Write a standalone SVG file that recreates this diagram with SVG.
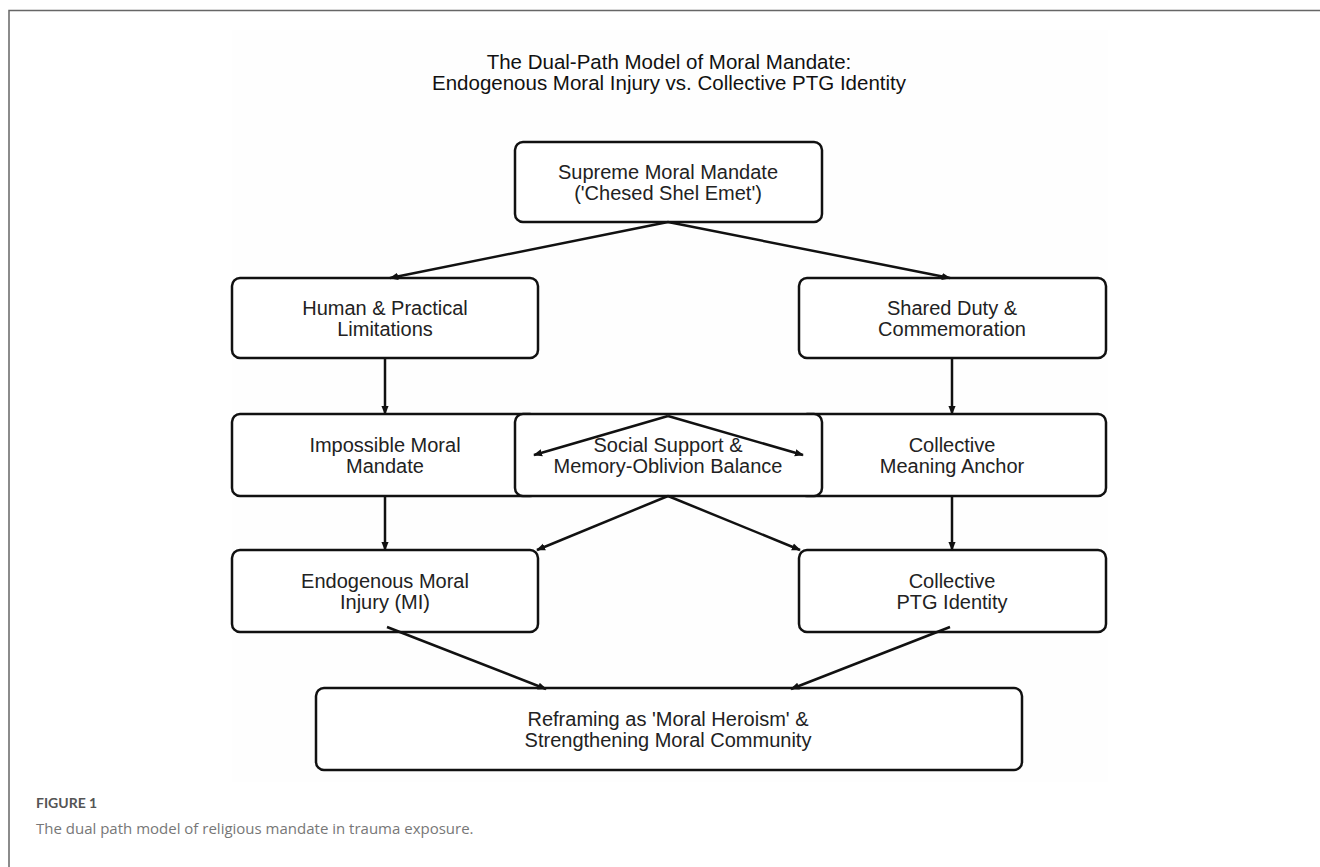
<svg xmlns="http://www.w3.org/2000/svg" width="1320" height="867" viewBox="0 0 1320 867">
  <defs>
    <marker id="arr" viewBox="0 0 10 10" refX="9" refY="5" markerWidth="9" markerHeight="9" markerUnits="userSpaceOnUse" orient="auto">
      <path d="M0,1 L10,5 L0,9 z" fill="#111"/>
    </marker>
    <style>
      .box { fill: #fff; stroke: #111; stroke-width: 2.5; }
      .lbl { font-family: "Liberation Sans", Arial, sans-serif; font-size: 20px; fill: #222; text-anchor: middle; }
      .title { font-family: "Liberation Sans", Arial, sans-serif; font-size: 20.5px; fill: #111; text-anchor: middle; }
      .edge { stroke: #111; stroke-width: 2.5; fill: none; marker-end: url(#arr); }
      .frame { stroke: #666; stroke-width: 1.5; fill: none; }
    </style>
  </defs>
  <rect x="0" y="0" width="1320" height="867" fill="#fff"/>
  <rect x="232" y="30" width="876" height="752" fill="#fefefe"/>
  <path class="frame" d="M9,867 L9,10.5 L1320,10.5"/>

  <g id="title">
    <text class="title" x="669" y="69">The Dual-Path Model of Moral Mandate:</text>
    <text class="title" x="669" y="90">Endogenous Moral Injury vs. Collective PTG Identity</text>
  </g>

  <g id="node-supreme">
    <rect class="box" x="515" y="142" width="307" height="80" rx="8"/>
    <text class="lbl" x="668" y="179">Supreme Moral Mandate</text>
    <text class="lbl" x="668" y="200">('Chesed Shel Emet')</text>
  </g>
  <g id="node-limitations">
    <rect class="box" x="232" y="278" width="306" height="80" rx="8"/>
    <text class="lbl" x="385" y="315">Human &amp; Practical</text>
    <text class="lbl" x="385" y="336">Limitations</text>
  </g>
  <g id="node-shared">
    <rect class="box" x="799" y="278" width="307" height="80" rx="8"/>
    <text class="lbl" x="952" y="315">Shared Duty &amp;</text>
    <text class="lbl" x="952" y="336">Commemoration</text>
  </g>
  <g id="node-impossible">
    <rect class="box" x="232" y="414" width="306" height="82" rx="8"/>
    <text class="lbl" x="385" y="452">Impossible Moral</text>
    <text class="lbl" x="385" y="473">Mandate</text>
  </g>
  <g id="node-meaning">
    <rect class="box" x="799" y="414" width="307" height="82" rx="8"/>
    <text class="lbl" x="952" y="452">Collective</text>
    <text class="lbl" x="952" y="473">Meaning Anchor</text>
  </g>
  <g id="node-social">
    <rect class="box" x="515" y="414" width="307" height="82" rx="8"/>
    <text class="lbl" x="668" y="452">Social Support &amp;</text>
    <text class="lbl" x="668" y="473">Memory-Oblivion Balance</text>
  </g>
  <g id="node-endogenous">
    <rect class="box" x="232" y="550" width="306" height="82" rx="8"/>
    <text class="lbl" x="385" y="588">Endogenous Moral</text>
    <text class="lbl" x="385" y="609">Injury (MI)</text>
  </g>
  <g id="node-ptg">
    <rect class="box" x="799" y="550" width="307" height="82" rx="8"/>
    <text class="lbl" x="952" y="588">Collective</text>
    <text class="lbl" x="952" y="609">PTG Identity</text>
  </g>
  <g id="node-reframing">
    <rect class="box" x="316" y="688" width="706" height="82" rx="8"/>
    <text class="lbl" x="668" y="726">Reframing as 'Moral Heroism' &amp;</text>
    <text class="lbl" x="668" y="747">Strengthening Moral Community</text>
  </g>

  <g id="connectors">
    <line class="edge" x1="668" y1="222" x2="390" y2="278"/>
    <line class="edge" x1="668" y1="222" x2="950" y2="278"/>
    <line class="edge" x1="385" y1="358" x2="385" y2="414"/>
    <line class="edge" x1="952" y1="358" x2="952" y2="414"/>
    <line class="edge" x1="668" y1="416" x2="534" y2="455"/>
    <line class="edge" x1="668" y1="416" x2="803" y2="455"/>
    <line class="edge" x1="385" y1="496" x2="385" y2="550"/>
    <line class="edge" x1="952" y1="496" x2="952" y2="550"/>
    <line class="edge" x1="668" y1="496" x2="537" y2="550"/>
    <line class="edge" x1="668" y1="496" x2="800" y2="550"/>
    <line class="edge" x1="387" y1="627" x2="546" y2="689"/>
    <line class="edge" x1="950" y1="627" x2="791" y2="689"/>
  </g>

  <g id="caption">
    <text x="36" y="808" font-family="Lato, 'Open Sans', sans-serif" font-size="14" font-weight="bold" fill="#555">FIGURE 1</text>
    <text x="36" y="834" font-family="'Open Sans', Lato, sans-serif" font-size="15" fill="#777">The dual path model of religious mandate in trauma exposure.</text>
  </g>
</svg>
